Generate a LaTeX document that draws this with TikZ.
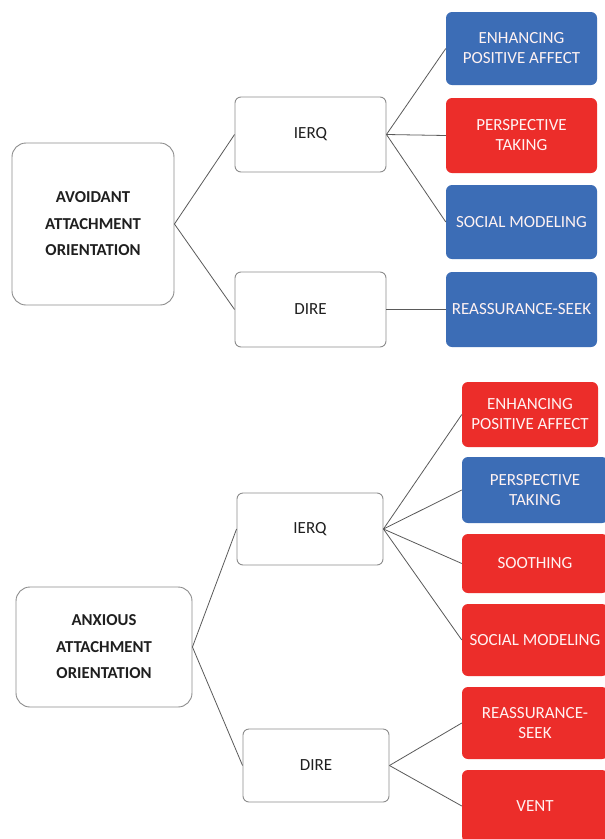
\documentclass[tikz,border=0pt]{standalone}
\usepackage{fontspec}
\setmainfont{Carlito}
\definecolor{bluebox}{HTML}{3C6DB6}
\definecolor{redbox}{HTML}{EC2D2A}
\definecolor{edgegray}{HTML}{8C8C8C}
\definecolor{linegray}{HTML}{5A5A5A}
\begin{document}
\begin{tikzpicture}[x=1pt,y=-1pt,
  box/.style={draw=edgegray, line width=0.9pt, rounded corners=6pt, fill=white,
    align=center, inner sep=0pt, text=black!88, font=\fontsize{17}{20}\selectfont},
  bigbox/.style={box, rounded corners=14pt, font=\bfseries\fontsize{16.7}{26.5}\selectfont},
  catbox/.style={rounded corners=6pt, align=center, inner sep=0pt, text=white!95!red,
    font=\fontsize{17}{20}\selectfont},
  bcat/.style={catbox, fill=bluebox},
  rcat/.style={catbox, fill=redbox},
  link/.style={draw=linegray, line width=0.8pt}]
\useasboundingbox (0,0) rectangle (605,839);
\clip (0,0) rectangle (605,839);
\fill[white] (0,0) rectangle (605,839);

% ---- top: avoidant ----
\node[bigbox, minimum width=162pt, minimum height=162pt] (A1) at (93,224) {AVOIDANT\\ATTACHMENT\\ORIENTATION};
\node[box, minimum width=151pt, minimum height=75pt] (I1) at (310.5,134.5) {IERQ};
\node[box, minimum width=151pt, minimum height=75pt] (D1) at (310.5,309.5) {DIRE};
\node[bcat, minimum width=151pt, minimum height=73pt] (E1) at (521.5,48.5) {ENHANCING\\POSITIVE AFFECT};
\node[rcat, minimum width=151pt, minimum height=75pt] (P1) at (521.5,135.5) {PERSPECTIVE\\TAKING};
\node[bcat, minimum width=151pt, minimum height=74pt] (S1) at (521.5,222) {SOCIAL MODELING};
\node[bcat, minimum width=151pt, minimum height=75pt] (R1) at (521.5,309.5) {REASSURANCE-SEEK};

\draw[link] (A1.east) -- (I1.west);
\draw[link] (A1.east) -- (D1.west);
\draw[link] (I1.east) -- (E1.west);
\draw[link] (I1.east) -- (P1.west);
\draw[link] (I1.east) -- (S1.west);
\draw[link] (D1.east) -- (R1.west);

% ---- bottom: anxious ----
\node[bigbox, minimum width=176pt, minimum height=120pt] (A2) at (104,647) {ANXIOUS\\ATTACHMENT\\ORIENTATION};
\node[box, minimum width=146pt, minimum height=72pt] (I2) at (310,529) {IERQ};
\node[box, minimum width=146pt, minimum height=73pt] (D2) at (316,765.5) {DIRE};
\node[rcat, minimum width=136pt, minimum height=65pt] (E2) at (530,414.5) {ENHANCING\\POSITIVE AFFECT};
\node[bcat, minimum width=146pt, minimum height=66pt] (P2) at (535,490) {PERSPECTIVE\\TAKING};
\node[rcat, minimum width=146pt, minimum height=59pt] (So2) at (535,563.5) {SOOTHING};
\node[rcat, minimum width=146pt, minimum height=72pt] (S2) at (535,640) {SOCIAL MODELING};
\node[rcat, minimum width=146pt, minimum height=72pt] (R2) at (535,723) {REASSURANCE-\\SEEK};
\node[rcat, minimum width=146pt, minimum height=72pt] (V2) at (535,806) {VENT};

\draw[link] (A2.east) -- (I2.west);
\draw[link] (A2.east) -- (D2.west);
\draw[link] (I2.east) -- (E2.west);
\draw[link] (I2.east) -- (P2.west);
\draw[link] (I2.east) -- (So2.west);
\draw[link] (I2.east) -- (S2.west);
\draw[link] (D2.east) -- (R2.west);
\draw[link] (D2.east) -- (V2.west);
\end{tikzpicture}
\end{document}
